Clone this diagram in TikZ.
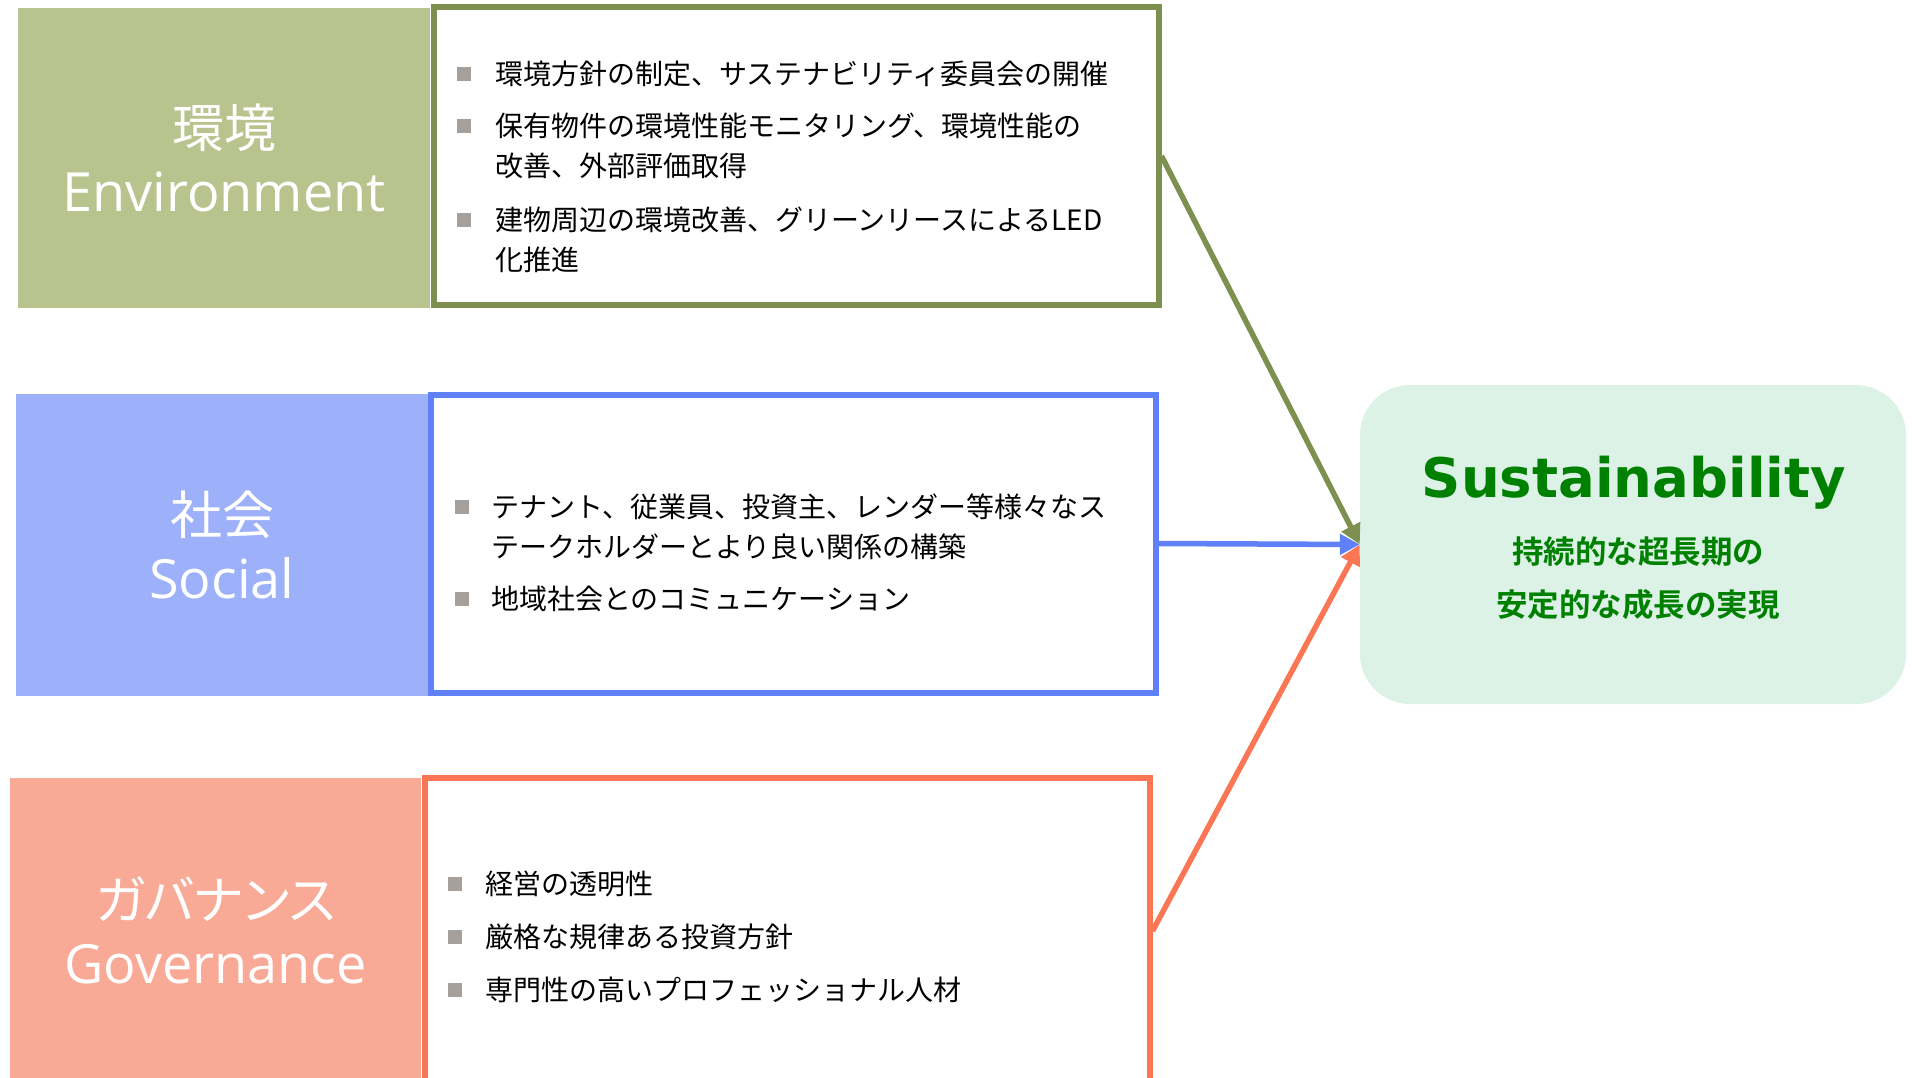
\documentclass[tikz,border=0pt]{standalone}
\usepackage{fontspec}
\usepackage{xcolor}
\setmainfont{Noto Sans CJK JP}[BoldFont={Noto Sans CJK JP Bold}]
\newfontfamily\latinfont{Open Sans}
\newfontfamily\titlefont{DejaVu Sans}
\newfontfamily\kanafont{Noto Sans CJK JP}[RawFeature=+palt]
\usetikzlibrary{arrows.meta}

\definecolor{envfill}{RGB}{184,195,142}
\definecolor{envline}{RGB}{126,144,80}
\definecolor{socfill}{RGB}{157,176,250}
\definecolor{socline}{RGB}{96,128,248}
\definecolor{govfill}{RGB}{248,170,150}
\definecolor{govline}{RGB}{250,118,85}
\definecolor{sustfill}{RGB}{220,242,230}
\definecolor{sustgreen}{RGB}{0,128,0}
\definecolor{bulletgray}{RGB}{166,160,156}

\tikzset{
    labelbox/.style={rectangle, inner sep=0pt, text=white, align=center,
        font=\fontsize{52}{64}\selectfont},
    listbox/.style={rectangle, draw, line width=6pt, fill=white, inner sep=0pt,
        minimum width=725pt, minimum height=298pt},
    listitem/.style={anchor=base west, inner sep=0pt, text width=660pt, align=left,
        font=\fontsize{28}{40}\selectfont},
    bulletsq/.style={rectangle, fill=bulletgray, inner sep=0pt, minimum size=14pt},
    link/.style={line width=5.5pt, -{Triangle[length=20pt,width=20pt]}},
}

\begin{document}
\begin{tikzpicture}[x=1pt,y=-1pt]
    \path[use as bounding box, clip] (0,0) rectangle (1912,1077);

    % Environment
    \node[labelbox, fill=envfill, minimum width=412pt, minimum height=300pt] (envlabel) at (224,158)
        {環境\\{\latinfont\fontsize{54}{64}\selectfont Environment}};
    \node[listbox, draw=envline] (envlist) at (796,156) {};
    \foreach \y [count=\i] in {74,126,220} {
        \node[bulletsq] (envbul\i) at (464,\y) {};
    }
    \node[listitem] (envitem1) at (495,84.6) {環境方針の制定、サステナビリティ委員会の開催};
    \node[listitem] (envitem2) at (495,136.6) {保有物件の環境性能モニタリング、環境性能の\\改善、外部評価取得};
    \node[listitem] (envitem3) at (495,230.6) {建物周辺の環境改善、グリーンリースによるLED\\化推進};

    % Social
    \node[labelbox, fill=socfill, minimum width=412pt, minimum height=302pt] (soclabel) at (222,545)
        {社会\\{\latinfont\fontsize{54}{64}\selectfont Social}};
    \node[listbox, draw=socline] (soclist) at (793,543.5) {};
    \foreach \y [count=\i] in {507,599} {
        \node[bulletsq] (socbul\i) at (462,\y) {};
    }
    \node[listitem] (socitem1) at (491,517.6) {テナント、従業員、投資主、レンダー等様々なス\\テークホルダーとより良い関係の構築};
    \node[listitem] (socitem2) at (491,609.6) {地域社会とのコミュニケーション};

    % Governance
    \node[labelbox, fill=govfill, minimum width=411pt, minimum height=304pt] (govlabel) at (215.5,930)
        {{\kanafont ガバナンス}\\{\latinfont\fontsize{54}{64}\selectfont Governance}};
    \node[listbox, draw=govline, minimum height=306pt] (govlist) at (787,931) {};
    \foreach \y [count=\i] in {884,937,990} {
        \node[bulletsq] (govbul\i) at (455,\y) {};
    }
    \node[listitem] (govitem1) at (485,894.6) {経営の透明性};
    \node[listitem] (govitem2) at (485,947.6) {厳格な規律ある投資方針};
    \node[listitem] (govitem3) at (485,1000.6) {専門性の高いプロフェッショナル人材};

    % Sustainability
    \node[rectangle, rounded corners=50pt, fill=sustfill, minimum width=546pt,
        minimum height=319pt] (sust) at (1633,544.5) {};
    \node[anchor=base, inner sep=0pt, text=sustgreen,
        font=\titlefont\bfseries\fontsize{54.5}{60}\selectfont] (susttitle) at (1634,497) {Sustainability};
    \node[inner sep=0pt, align=center, text=sustgreen,
        font=\bfseries\fontsize{31.5}{53}\selectfont] (sustsub) at (1638,578.5)
        {持続的な超長期の\\安定的な成長の実現};

    % links
    \draw[link, envline] (envlist.east) -- (sust.west);
    \draw[link, socline] (soclist.east) -- (sust.west);
    \draw[link, govline] (govlist.east) -- (sust.west);
\end{tikzpicture}
\end{document}
